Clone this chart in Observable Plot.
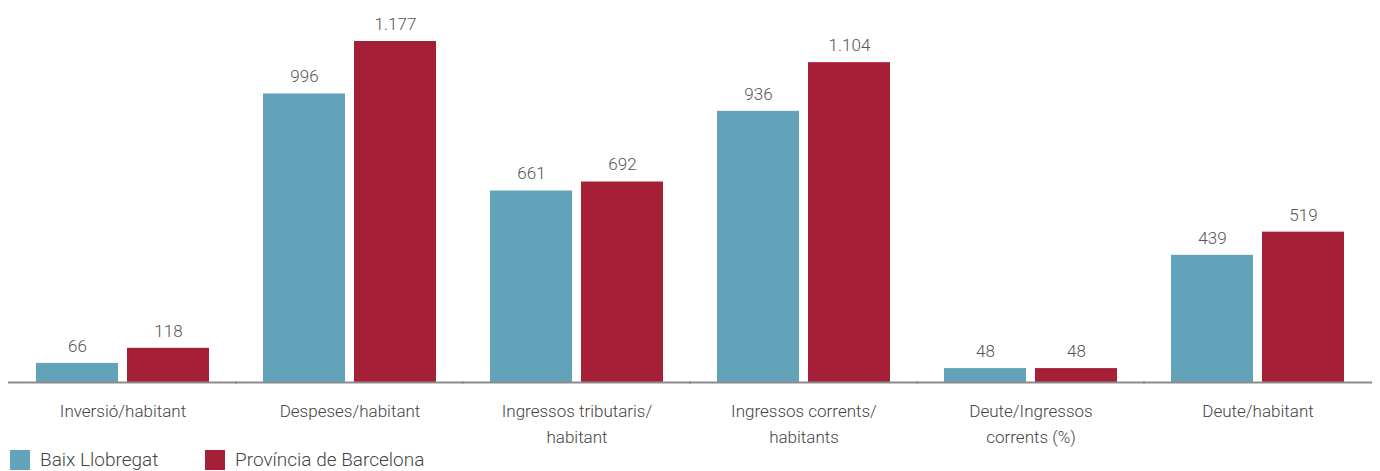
<!DOCTYPE html>
<html><head><meta charset="utf-8">
<script src="https://cdn.jsdelivr.net/npm/d3@7"></script>
<script src="https://cdn.jsdelivr.net/npm/@observablehq/plot@0.6"></script>
<style>
body{margin:0;background:#fff;font-family:Roboto,sans-serif;}
#chart svg{display:block;}
#legend{display:flex;align-items:center;margin:3px 0 0 10px;font-family:Roboto,sans-serif;font-weight:300;font-size:19px;line-height:20px;color:#444;white-space:nowrap;}
.item{display:flex;align-items:center;flex:none;}
.item:first-child{width:195px;}
.sw{width:20px;height:20px;margin-right:10px;flex:none;}
</style></head><body><div id="chart"></div><div id="legend"></div>
<script>
const categories = ["Inversió/habitant","Despeses/habitant","Ingressos tributaris/habitant","Ingressos corrents/habitants","Deute/Ingressos corrents (%)","Deute/habitant"];
const categoryLabels = ["Inversió/habitant","Despeses/habitant","Ingressos tributaris/\nhabitant","Ingressos corrents/\nhabitants","Deute/Ingressos\ncorrents (%)","Deute/habitant"];
const series = ["Baix Llobregat","Província de Barcelona"];
const baixValues = [66,996,661,936,48,439];
const provValues = [118,1177,692,1104,48,519];
const colors = ["#62a3ba","#a51f36"];

const data = categories.flatMap((c,i)=>[
  {category:c, series:series[0], value:baixValues[i]},
  {category:c, series:series[1], value:provValues[i]}
]);
const labelData = categories.map((c,i)=>({category:c, label:categoryLabels[i]}));
const fmt = d3.formatLocale({decimal:",", thousands:".", grouping:[3], currency:["","€"]}).format(",d");

const plot = Plot.plot({
  width:1380, height:447, marginTop:41, marginBottom:65, marginLeft:10, marginRight:10,
  style:{fontFamily:"Roboto, sans-serif", background:"#fff"},
  fx:{domain:categories, paddingInner:0.2366, paddingOuter:0.113, axis:null, label:null},
  x:{domain:series, paddingInner:0.099, paddingOuter:0, axis:null},
  y:{domain:[0, d3.max(provValues)], axis:null, nice:false},
  color:{domain:series, range:colors},
  marks:[
    Plot.barY(data,{fx:"category", x:"series", y:"value", fill:"series"}),
    Plot.ruleY([0],{stroke:"#8c8c8c", strokeWidth:2, insetLeft:-28, insetRight:-28}),
    Plot.text(data,{fx:"category", x:"series", y:"value", text:d=>fmt(d.value), dy:-17, fontSize:17, fontWeight:300, fill:"#555"}),
    Plot.text(labelData,{fx:"category", text:"label", frameAnchor:"bottom", lineAnchor:"top", dy:16, lineHeight:1.53, fontSize:17, fontWeight:300, fill:"#444"})
  ]
});
document.getElementById("chart").append(plot);

const legend = document.getElementById("legend");
series.forEach((s,i)=>{
  const it = document.createElement("div"); it.className="item";
  const sw = document.createElement("div"); sw.className="sw"; sw.style.background=colors[i];
  const t = document.createElement("span"); t.textContent=s;
  it.append(sw,t); legend.append(it);
});
</script></body></html>
